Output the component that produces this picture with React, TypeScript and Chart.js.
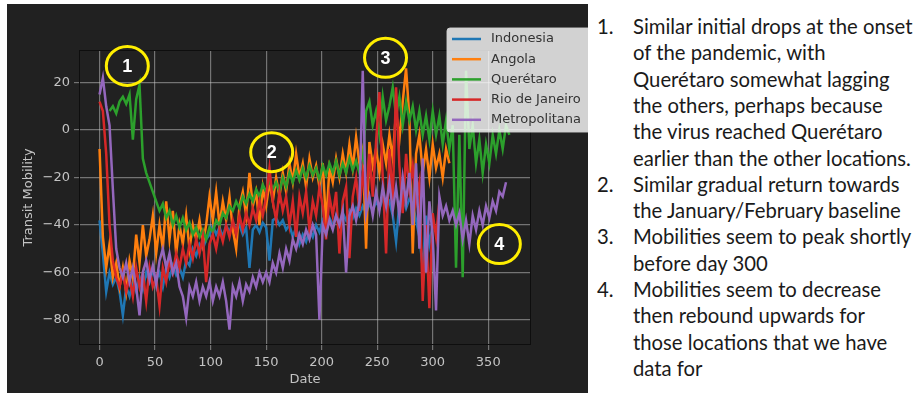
import React, { useEffect, useRef } from "react";
import { Chart, registerables } from "chart.js";
Chart.register(...registerables);

// ---------- data ----------
const seriesNames = ["Indonesia", "Angola", "Querétaro", "Rio de Janeiro", "Metropolitana"];
const seriesColors = ["#1f77b4", "#ff7f0e", "#2ca02c", "#d62728", "#9467bd"];
const dayStep = 3;
const seriesStartDays = [0, 0, 9, 0, 0];

const indonesia = [
  -38, -52, -68, -60, -65, -62, -68, -78, -66, -70, -64, -68, -62, -67, -60, -64, -59, -63, -60, -66,
  -58, -62, -57, -61, -58, -62, -55, -57, -50, -53, -48, -50, -46, -44, -40, -44, -41, -45, -40, -43,
  -39, -42, -40, -44, -41, -58, -42, -40, -43, -39, -41, -55, -38, -37, -40, -38, -42, -40, -45, -41,
  -48, -44, -47, -42, -45, -40, -43, -38, -41, -37, -40, -36, -39, -35, -38, -34, -37, -33, -36, -32,
  -35, -31, -34, -30, -33, -29, -32, -30, -36, -47, -31, -28, -33, -29, -31, -38, -45, -58, -36, -48,
  -40,
];
const angola = [
  -8, -45, -58, -48, -62, -56, -66, -58, -68, -55, -62, -44, -56, -40, -53, -46, -36, -52, -40, -50,
  -30, -46, -34, -52, -40, -48, -36, -50, -40, -46, -38, -48, -40, -28, -38, -26, -40, -30, -38, -28,
  -42, -50, -32, -26, -36, -18, -32, -26, -40, -24, -32, -22, -30, -20, -28, -18, -26, -14, -22, -10,
  -20, -14, -24, -12, -20, -15, -24, -14, -40, -16, -22, -12, -20, -10, -18, -6, -16, -3, -14, -8,
  -50, -5, -15, -8, -18, -6, -14, -2, -12, 8, -4, 12, 26, 5, -52, -10, -2, -18, -8, -20,
  -6, -16, -10, -20, -8, -14,
];
const queretaro = [
  8, 10, 7, 12, 14, 11, 15, -4, 13, 19, -12, -18, -22, -26, -30, -34, -31, -37, -34, -40,
  -36, -41, -37, -42, -39, -44, -41, -45, -42, -46, -41, -43, -38, -40, -35, -37, -32, -34, -30, -33,
  -28, -31, -27, -30, -25, -28, -23, -26, -21, -25, -22, -26, -20, -24, -18, -22, -17, -21, -16, -20,
  -15, -19, -16, -21, -15, -19, -14, -18, -13, -19, -14, -18, -12, -17, -13, -18, -14, 8, 12, 2,
  8, -2, 14, 4, 10, 18, 6, 14, 2, 12, 4, 10, 0, 8, -2, 6, -4, 8, -2, 6,
  -6, 4, -8, 2, -58, -2, -62, 25, -8, 2, -14, -4, -18, -6, -14, -2, -10, 0, -8, 2,
  -2,
];
const rioDeJaneiro = [
  12, 8, -10, -40, -55, -62, -66, -60, -68, -62, -70, -58, -66, -60, -72, -58, -66, -62, -74, -58,
  -64, -55, -60, -52, -58, -50, -56, -48, -54, -46, -52, -45, -64, -48, -44, -50, -42, -47, -40, -45,
  -38, -44, -36, -42, -35, -40, -33, -38, -30, -36, -28, -16, -30, -38, -26, -34, -28, -40, -30, -45,
  -28, -35, -26, -42, -30, -36, -24, -32, -46, -28, -36, -26, -52, -30, -24, -54, -28, -20, -34, -18,
  -30, -10, -28, -5, 16, -20, -52, -8, -30, 18, -15, -35, -10, -25, -15, -30, -22, -72, -40, -75,
  -35, -45, -30,
];
const metropolitana = [
  15, 22, 10, 2, -25, -50, -58, -62, -56, -64, -58, -66, -78, -60, -55, -63, -57, -65, -55, -50,
  -58, -52, -60, -56, -66, -70, -79, -66, -70, -64, -72, -66, -70, -64, -72, -66, -70, -64, -72, -84,
  -66, -70, -64, -72, -65, -68, -62, -66, -60, -64, -60, -64, -56, -60, -52, -58, -50, -55, -46, -50,
  -44, -48, -42, -46, -40, -44, -80, -40, -44, -38, -42, -36, -40, -34, -60, -36, -32, -38, -30, 25,
  -35, -28, -36, -26, -34, -24, -32, -22, -34, -24, -36, -20, -30, -18, -40, -14, -50, -12, -60, -30,
  -45, -76, -28, -36, -32, -38, -34, -40, -35, -46, -38, -48, -36, -42, -34, -40, -32, -37, -30, -34,
  -26, -28, -22,
];
const seriesValues = [indonesia, angola, queretaro, rioDeJaneiro, metropolitana];

const xTicks = [0, 50, 100, 150, 200, 250, 300, 350];
const yTicks = [-80, -60, -40, -20, 0, 20];
const xMin = -18.5;
const xMax = 388.5;
const yMin = -90.5;
const yMax = 33.7;

const annotationLabels = ["1", "2", "3", "4"];
const annotationDays = [25, 155, 257.5, 360];
const annotationValues = [27, -9.3, 30.4, -48];

const notes = [
  { num: "1.", lines: ["Similar initial drops at the onset", "of the pandemic, with", "Querétaro somewhat lagging", "the others, perhaps because", "the virus reached Querétaro", "earlier than the other locations."] },
  { num: "2.", lines: ["Similar gradual return towards", "the January/February baseline"] },
  { num: "3.", lines: ["Mobilities seem to peak shortly", "before day 300"] },
  { num: "4.", lines: ["Mobilities seem to decrease", "then rebound upwards for", "those locations that we have", "data for"] },
];

const fmt = (v: number) => (v < 0 ? "\u2212" + Math.abs(v) : String(v));
const TEXT_GRAY = "#c4c4c4";
const GRID = "rgba(200,200,200,0.5)";

export default function App() {
  const ref = useRef<HTMLCanvasElement | null>(null);
  useEffect(() => {
    if (!ref.current) return;
    Chart.defaults.font.family = "'DejaVu Sans', sans-serif";
    const datasets = seriesNames.map((name, i) => ({
      label: name,
      data: seriesValues[i].map((v, k) => ({ x: seriesStartDays[i] + k * dayStep, y: v })),
      borderColor: seriesColors[i],
      backgroundColor: seriesColors[i],
      borderWidth: 2.5,
      pointRadius: 0,
      tension: 0,
      fill: false,
      order: seriesNames.length - 1 - i,
    }));

    const framePlugin = {
      id: "frame",
      beforeDatasetsDraw(chart: any) {
        const { ctx, chartArea: a } = chart;
        ctx.save();
        ctx.strokeStyle = "#0e0e0e";
        ctx.lineWidth = 1;
        ctx.strokeRect(a.left + 0.5, a.top + 0.5, a.right - a.left - 1, a.bottom - a.top - 1);
        ctx.restore();
      },
      afterDraw(chart: any) {
        const { ctx, chartArea: a, scales } = chart;
        // legend
        const lx = a.right - 84;
        const ly = a.top - 22;
        const lw = 150;
        const lh = 104;
        ctx.save();
        ctx.beginPath();
        ctx.roundRect(lx, ly, lw, lh, 3);
        ctx.fillStyle = "rgba(255,255,255,0.8)";
        ctx.fill();
        ctx.strokeStyle = "rgba(210,210,210,0.9)";
        ctx.lineWidth = 1;
        ctx.stroke();
        ctx.font = "13px 'DejaVu Sans'";
        ctx.textBaseline = "middle";
        ctx.textAlign = "left";
        seriesNames.forEach((name, i) => {
          const y = ly + 11 + i * 20.2;
          ctx.strokeStyle = seriesColors[i];
          ctx.lineWidth = 2.5;
          ctx.beginPath();
          ctx.moveTo(lx + 5, y);
          ctx.lineTo(lx + 34, y);
          ctx.stroke();
          ctx.fillStyle = "#333333";
          ctx.fillText(name, lx + 44, y);
        });
        // annotations
        annotationLabels.forEach((t, i) => {
          const cx = scales.x.getPixelForValue(annotationDays[i]);
          const cy = scales.y.getPixelForValue(annotationValues[i]);
          ctx.beginPath();
          ctx.ellipse(cx, cy, 21, 19.5, 0, 0, Math.PI * 2);
          ctx.strokeStyle = "#ffee00";
          ctx.lineWidth = 3;
          ctx.stroke();
          ctx.fillStyle = "#ffffff";
          ctx.font = "bold 18px 'Liberation Sans', Arial, sans-serif";
          ctx.textAlign = "center";
          ctx.textBaseline = "middle";
          ctx.fillText(t, cx, cy + 1);
        });
        ctx.restore();
      },
    };

    const chart = new Chart(ref.current, {
      type: "line",
      data: { datasets },
      plugins: [framePlugin],
      options: {
        animation: false,
        responsive: false,
        maintainAspectRatio: false,
        layout: { padding: { left: 0, right: 57, top: 46, bottom: 0 } },
        plugins: { legend: { display: false }, tooltip: { enabled: false } },
        scales: {
          x: {
            type: "linear",
            min: xMin,
            max: xMax,
            afterBuildTicks: (s: any) => {
              s.ticks = xTicks.map((v) => ({ value: v }));
            },
            afterFit: (s: any) => {
              s.height = 48;
            },
            border: { display: false },
            grid: { color: GRID, lineWidth: 1.2, tickLength: 5, drawTicks: true },
            ticks: {
              color: TEXT_GRAY,
              font: { size: 13 },
              padding: 5,
              maxRotation: 0,
              autoSkip: false,
              callback: (v: any) => fmt(Number(v)),
            },
            title: { display: true, text: "Date", color: TEXT_GRAY, font: { size: 13 }, padding: { top: 0, bottom: 6 } },
          },
          y: {
            type: "linear",
            min: yMin,
            max: yMax,
            afterBuildTicks: (s: any) => {
              s.ticks = yTicks.map((v) => ({ value: v }));
            },
            afterFit: (s: any) => {
              s.width = 72;
            },
            border: { display: false },
            grid: { color: GRID, lineWidth: 1.2, tickLength: 5, drawTicks: true },
            ticks: {
              color: TEXT_GRAY,
              font: { size: 13 },
              padding: 4,
              autoSkip: false,
              callback: (v: any) => fmt(Number(v)),
            },
            title: { display: true, text: "Transit Mobility", color: TEXT_GRAY, font: { size: 13 }, padding: { top: 14, bottom: 0 } },
          },
        },
      },
    } as any);
    return () => chart.destroy();
  }, []);

  let lineIdx = 0;
  const LH = 26.3;
  return (
    <div style={{ position: "absolute", left: 0, top: 0, width: 916, height: 393, background: "#ffffff", overflow: "hidden" }}>
      <div style={{ position: "absolute", left: 7, top: 4, width: 581, height: 389, background: "#212121" }}>
        <canvas ref={ref} width={581} height={389} style={{ display: "block", width: 581, height: 389 }} />
      </div>
      <div style={{ position: "absolute", left: 590, top: 0, width: 326, height: 393, fontFamily: "Lato, 'Open Sans', sans-serif", fontSize: 20.3, color: "#1a1a1a" }}>
        {notes.map((n) =>
          n.lines.map((ln, j) => {
            const top = 13 + LH * lineIdx++;
            return (
              <div key={n.num + j} style={{ position: "absolute", top, left: 0, height: LH, lineHeight: LH + "px", whiteSpace: "nowrap" }}>
                {j === 0 ? <span style={{ position: "absolute", left: 7 }}>{n.num}</span> : null}
                <span style={{ position: "absolute", left: 43 }}>{ln}</span>
              </div>
            );
          })
        )}
      </div>
    </div>
  );
}
